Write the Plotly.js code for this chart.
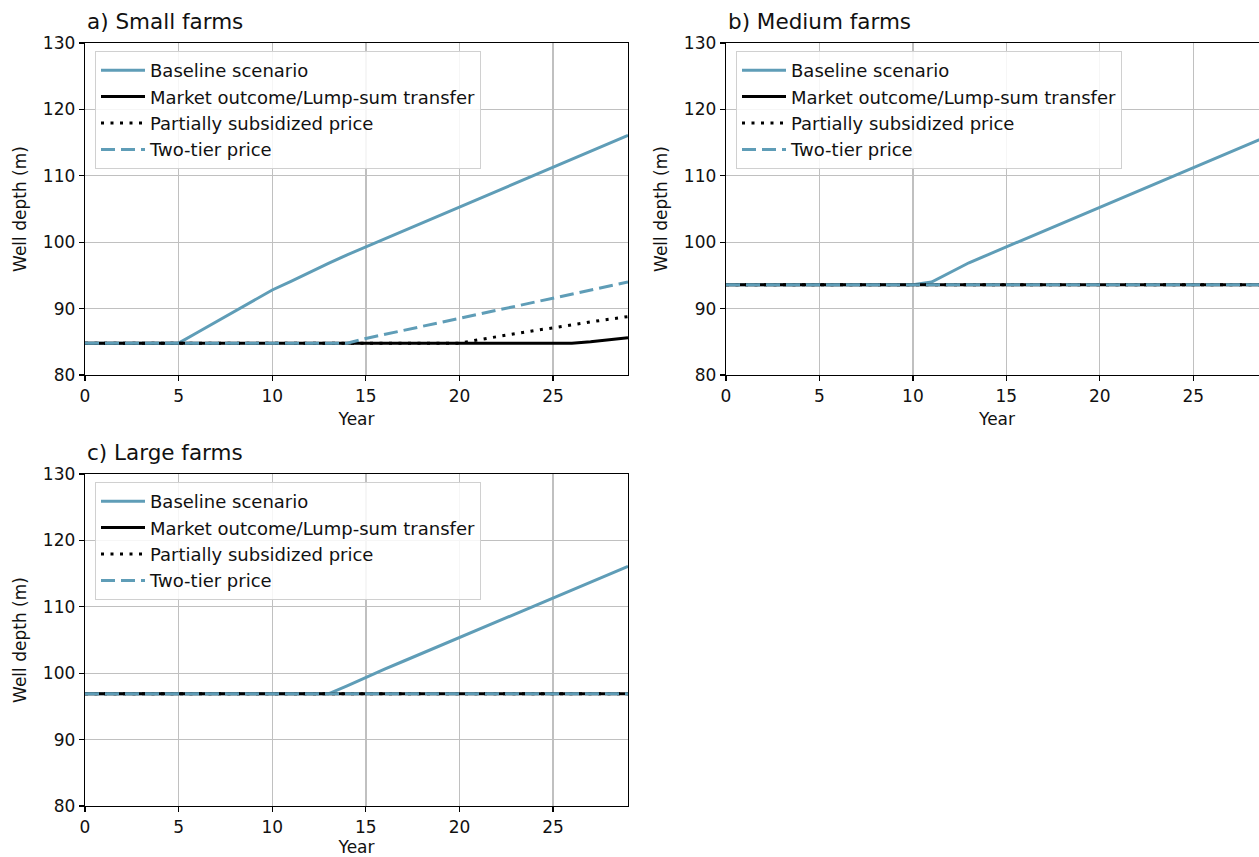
<!DOCTYPE html>
<html>
<head>
<meta charset="utf-8">
<script src="https://cdn.plot.ly/plotly-3.0.1.min.js"></script>
<style>
html,body{margin:0;padding:0;overflow:hidden;background:#fff;}
#chart{width:1270px;height:857px;}
</style>
</head>
<body>
<div id="chart"></div>
<script>
// ---- data ----
const years = [0,1,2,3,4,5,6,7,8,9,10,11,12,13,14,15,16,17,18,19,20,21,22,23,24,25,26,27,28,29];
const seriesNames = ["Baseline scenario","Market outcome/Lump-sum transfer","Partially subsidized price","Two-tier price"];
const panelTitles = ["a) Small farms","b) Medium farms","c) Large farms"];
const xTicks = [0,5,10,15,20,25];
const yTicks = [80,90,100,110,120,130];

// a) Small farms
const smallBaseline = [84.8,84.8,84.8,84.8,84.8,84.8,86.4,88.0,89.6,91.2,92.8,94.1,95.5,96.8,98.1,99.3,100.5,101.7,102.9,104.1,105.3,106.5,107.7,108.9,110.1,111.3,112.5,113.7,114.9,116.1];
const smallMarket   = [84.8,84.8,84.8,84.8,84.8,84.8,84.8,84.8,84.8,84.8,84.8,84.8,84.8,84.8,84.8,84.8,84.8,84.8,84.8,84.8,84.8,84.8,84.8,84.8,84.8,84.8,84.8,85.0,85.3,85.6];
const smallPartial  = [84.8,84.8,84.8,84.8,84.8,84.8,84.8,84.8,84.8,84.8,84.8,84.8,84.8,84.8,84.8,84.8,84.8,84.8,84.8,84.8,84.8,85.3,85.8,86.2,86.7,87.1,87.6,88.0,88.4,88.8];
const smallTwoTier  = [84.8,84.8,84.8,84.8,84.8,84.8,84.8,84.8,84.8,84.8,84.8,84.8,84.8,84.8,84.8,85.5,86.1,86.7,87.4,88.0,88.6,89.2,89.8,90.4,91.0,91.6,92.2,92.8,93.4,94.0];

// b) Medium farms
const mediumBaseline = [93.6,93.6,93.6,93.6,93.6,93.6,93.6,93.6,93.6,93.6,93.6,94.0,95.5,96.9,98.1,99.3,100.5,101.7,102.9,104.1,105.3,106.5,107.7,108.9,110.1,111.3,112.5,113.7,114.9,116.0];
const mediumMarket   = [93.6,93.6,93.6,93.6,93.6,93.6,93.6,93.6,93.6,93.6,93.6,93.6,93.6,93.6,93.6,93.6,93.6,93.6,93.6,93.6,93.6,93.6,93.6,93.6,93.6,93.6,93.6,93.6,93.6,93.6];
const mediumPartial  = [93.6,93.6,93.6,93.6,93.6,93.6,93.6,93.6,93.6,93.6,93.6,93.6,93.6,93.6,93.6,93.6,93.6,93.6,93.6,93.6,93.6,93.6,93.6,93.6,93.6,93.6,93.6,93.6,93.6,93.6];
const mediumTwoTier  = [93.6,93.6,93.6,93.6,93.6,93.6,93.6,93.6,93.6,93.6,93.6,93.6,93.6,93.6,93.6,93.6,93.6,93.6,93.6,93.6,93.6,93.6,93.6,93.6,93.6,93.6,93.6,93.6,93.6,93.6];

// c) Large farms
const largeBaseline = [96.9,96.9,96.9,96.9,96.9,96.9,96.9,96.9,96.9,96.9,96.9,96.9,96.9,96.9,98.1,99.4,100.6,101.8,103.0,104.2,105.4,106.6,107.8,108.9,110.1,111.3,112.5,113.7,114.9,116.1];
const largeMarket   = [96.9,96.9,96.9,96.9,96.9,96.9,96.9,96.9,96.9,96.9,96.9,96.9,96.9,96.9,96.9,96.9,96.9,96.9,96.9,96.9,96.9,96.9,96.9,96.9,96.9,96.9,96.9,96.9,96.9,96.9];
const largePartial  = [96.9,96.9,96.9,96.9,96.9,96.9,96.9,96.9,96.9,96.9,96.9,96.9,96.9,96.9,96.9,96.9,96.9,96.9,96.9,96.9,96.9,96.9,96.9,96.9,96.9,96.9,96.9,96.9,96.9,96.9];
const largeTwoTier  = [96.9,96.9,96.9,96.9,96.9,96.9,96.9,96.9,96.9,96.9,96.9,96.9,96.9,96.9,96.9,96.9,96.9,96.9,96.9,96.9,96.9,96.9,96.9,96.9,96.9,96.9,96.9,96.9,96.9,96.9];

// ---- build ----
const W = 1270, H = 857;
const BLUE = '#5f9db7';
const FONT = 'DejaVu Sans, Liberation Sans, sans-serif';
const styles = [
  {color: BLUE, width: 3, dash: 'solid'},
  {color: '#000000', width: 3, dash: 'solid'},
  {color: '#000000', width: 3, dash: '3px,6.5px'},
  {color: BLUE, width: 3, dash: '14px,6px'}
];
const panels = [
  {data:[smallBaseline, smallMarket, smallPartial, smallTwoTier], xa:'x', ya:'y', legend:'legend'},
  {data:[mediumBaseline, mediumMarket, mediumPartial, mediumTwoTier], xa:'x2', ya:'y2', legend:'legend2'},
  {data:[largeBaseline, largeMarket, largePartial, largeTwoTier], xa:'x3', ya:'y3', legend:'legend3'}
];
const traces = [];
panels.forEach(p => {
  p.data.forEach((vals, i) => {
    traces.push({
      type:'scatter', mode:'lines', x: years, y: vals,
      name: seriesNames[i], xaxis: p.xa, yaxis: p.ya,
      legend: p.legend, showlegend: true,
      line: {color: styles[i].color, width: styles[i].width, dash: styles[i].dash},
      hoverinfo: 'skip'
    });
  });
});

function xAxis(domain, anchor){
  return {domain: domain, anchor: anchor, range:[0,29], tickvals: xTicks, ticktext: xTicks.map(String),
    showline:true, mirror:true, linecolor:'#000', linewidth:1.3, ticks:'outside', ticklen:5, tickwidth:1.2, tickcolor:'#000',
    showgrid:true, gridcolor:'#c0c0c0', gridwidth:1.3, zeroline:false, automargin:false,
    tickfont:{family:FONT, size:17, color:'#111'},
    title:{text:'Year', font:{family:FONT, size:17, color:'#111'}, standoff:8}};
}
function yAxis(domain, anchor){
  return {domain: domain, anchor: anchor, range:[80,130], tickvals: yTicks, ticktext: yTicks.map(String),
    showline:true, mirror:true, linecolor:'#000', linewidth:1.3, ticks:'outside', ticklen:5, tickwidth:1.2, tickcolor:'#000',
    showgrid:true, gridcolor:'#c0c0c0', gridwidth:1.3, zeroline:false, automargin:false,
    tickfont:{family:FONT, size:17, color:'#111'},
    title:{text:'Well depth (m)', font:{family:FONT, size:17, color:'#111'}, standoff:12}};
}
const topDom = [1-375/H, 1-43/H];
const botDom = [1-806/H, 1-474/H];
function leg(x, y){
  return {x: x/W, y: 1-y/H, xanchor:'left', yanchor:'top', bgcolor:'rgba(255,255,255,0.85)',
    bordercolor:'#d0d0d0', borderwidth:1, font:{family:FONT, size:18, color:'#111'},
    itemwidth:44, tracegroupgap:0, itemclick:false, itemdoubleclick:false};
}
const layout = {
  width: W, height: H, margin:{l:0,r:0,t:0,b:0}, paper_bgcolor:'#fff', plot_bgcolor:'#fff',
  font:{family:FONT, color:'#111'},
  xaxis: xAxis([85/W, 628/W], 'y'),
  yaxis: yAxis(topDom, 'x'),
  xaxis2: xAxis([726/W, 1268/W], 'y2'),
  yaxis2: yAxis(topDom, 'x2'),
  xaxis3: xAxis([85/W, 628/W], 'y3'),
  yaxis3: yAxis(botDom, 'x3'),
  legend: leg(95, 51),
  legend2: leg(736, 51),
  legend3: leg(95, 482),
  annotations: [
    {text: panelTitles[0], xref:'paper', yref:'paper', x:85/W, y:1-36/H, xanchor:'left', yanchor:'bottom', showarrow:false, font:{family:FONT, size:21.5, color:'#111'}},
    {text: panelTitles[1], xref:'paper', yref:'paper', x:726/W, y:1-36/H, xanchor:'left', yanchor:'bottom', showarrow:false, font:{family:FONT, size:21.5, color:'#111'}},
    {text: panelTitles[2], xref:'paper', yref:'paper', x:85/W, y:1-467/H, xanchor:'left', yanchor:'bottom', showarrow:false, font:{family:FONT, size:21.5, color:'#111'}}
  ],
  showlegend: true
};
Plotly.newPlot('chart', traces, layout, {staticPlot:true, displayModeBar:false});
</script>
</body>
</html>
